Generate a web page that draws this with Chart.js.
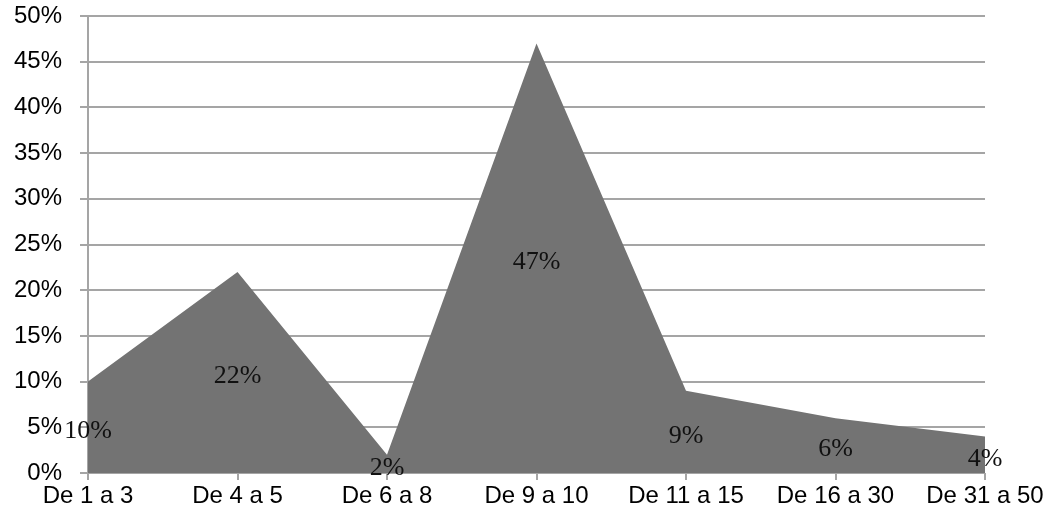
<!DOCTYPE html>
<html>
<head>
<meta charset="utf-8">
<script src="https://cdn.jsdelivr.net/npm/chart.js@4"></script>
<style>
  html, body { margin: 0; padding: 0; background: #fff; }
  #wrap { width: 1054px; height: 529px; }
</style>
</head>
<body>
<div id="wrap"><canvas id="grafico" width="1054" height="529"></canvas></div>
<script>
// faixas e percentuais
const categorias = ['De 1 a 3', 'De 4 a 5', 'De 6 a 8', 'De 9 a 10', 'De 11 a 15', 'De 16 a 30', 'De 31 a 50'];
const percentuais = [10, 22, 2, 47, 9, 6, 4];
const marcasY = [0, 5, 10, 15, 20, 25, 30, 35, 40, 45, 50];

const corGrade = '#a5a5a5';
const fonteEixo = { family: '"Liberation Sans", Arial, sans-serif', size: 24 };

// escreve o valor no meio da altura de cada ponto
const rotulosValor = {
    id: 'rotulosValor',
    afterDatasetsDraw(chart) {
        const ctx = chart.ctx;
        const x = chart.scales.x;
        const y = chart.scales.y;
        ctx.save();
        ctx.font = '26px "Liberation Serif", serif';
        ctx.fillStyle = '#111';
        ctx.textAlign = 'center';
        ctx.textBaseline = 'middle';
        percentuais.forEach(function(v, i) {
            const px = x.getPixelForValue(i);
            const py = y.getPixelForValue(v / 2) + 4;
            ctx.fillText(v + '%', px, py);
        });
        ctx.restore();
    }
};

new Chart(document.getElementById('grafico'), {
    type: 'line',
    data: {
        labels: categorias,
        datasets: [{
            data: percentuais,
            fill: 'origin',
            backgroundColor: '#737373',
            borderWidth: 0,
            pointRadius: 0,
            tension: 0
        }]
    },
    options: {
        responsive: false,
        animation: false,
        layout: { padding: { top: 16, right: 69, left: 0, bottom: 0 } },
        plugins: {
            legend: { display: false },
            tooltip: { enabled: false }
        },
        scales: {
            x: {
                offset: false,
                grid: {
                    drawOnChartArea: false,
                    drawTicks: true,
                    tickLength: 7,
                    color: corGrade,
                    lineWidth: 2
                },
                border: { display: false },
                ticks: {
                    color: '#000',
                    padding: 2,
                    maxRotation: 0,
                    autoSkip: false,
                    font: fonteEixo
                },
                afterFit(scale) { scale.height = 56; }
            },
            y: {
                min: 0,
                max: 50,
                afterBuildTicks(scale) {
                    scale.ticks = marcasY.map(function(v) { return { value: v }; });
                },
                grid: {
                    color: corGrade,
                    lineWidth: 2,
                    tickLength: 8,
                    drawTicks: true
                },
                border: { display: true, color: corGrade, width: 2 },
                ticks: {
                    color: '#000',
                    padding: 18,
                    callback: function(v) { return v + '%'; },
                    font: fonteEixo
                },
                afterFit(scale) {
                    scale.width = 88;
                    // a área do gráfico fica presa ao padding do layout
                    scale.paddingTop = 0;
                    scale.paddingBottom = 0;
                }
            }
        }
    },
    plugins: [rotulosValor]
});
</script>
</body>
</html>
